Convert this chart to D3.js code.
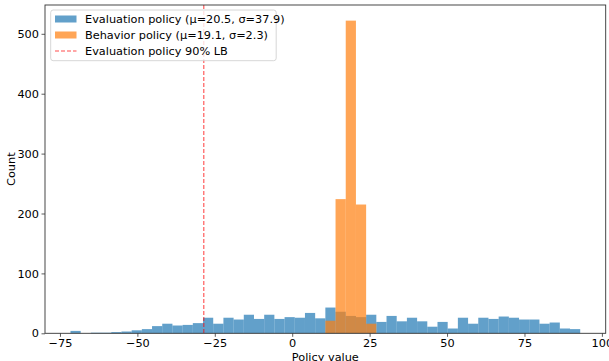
<!DOCTYPE html>
<html><head><meta charset="utf-8">
<script src="https://cdn.jsdelivr.net/npm/d3@7"></script>
<style>body{margin:0;background:#fff}svg{display:block;font-family:"DejaVu Sans",sans-serif}</style>
</head><body><svg id="c" width="609" height="361"></svg>
<script>
// Shared histogram bins (50 bins)
const binMin = -71.6, binMax = 93.0, nBins = 50;
const evalCounts = [4,0,1,1,2,3,5,7,12,16,13,14,17,26,16,26,23,
  31,24,31,24,27,26,34,25,
  43,36,29,27,31,19,29,20,26,20,
  11,19,8,26,16,26,24,28,26,23,23,16,18,8,7];
// Behavior policy counts, by shared bin index
const behIdx = [25,26,27,28,29];
const behCounts = [21,224,522,215,16];
const lbValue = -28.55;
const xTicks = [-75,-50,-25,0,25,50,75,100];
const yTicks = [0,100,200,300,400,500];
const legendLabels = ["Evaluation policy (\u03bc=20.5, \u03c3=37.9)","Behavior policy (\u03bc=19.1, \u03c3=2.3)","Evaluation policy 90% LB"];

const FS = 11.3;
const svg = d3.select("#c");
const L=45, R=605.7, T=5, B=333.3;
const w = (binMax-binMin)/nBins;
const pad = 0.05*(binMax-binMin);
const x = d3.scaleLinear().domain([binMin-pad, binMax+pad]).range([L,R]);
const y = d3.scaleLinear().domain([0, d3.max(behCounts)*1.05]).range([B,T]);

const evalData = evalCounts.map((c,i)=>({x0:binMin+i*w,x1:binMin+(i+1)*w,c}));
const behData = behCounts.map((c,k)=>({x0:binMin+behIdx[k]*w,x1:binMin+(behIdx[k]+1)*w,c}));

svg.append("g").selectAll("rect").data(evalData.filter(d=>d.c>0)).join("rect")
  .attr("x",d=>x(d.x0)).attr("width",d=>x(d.x1)-x(d.x0))
  .attr("y",d=>y(d.c)).attr("height",d=>y(0)-y(d.c))
  .attr("fill","#1f77b4").attr("fill-opacity",0.7);
svg.append("g").selectAll("rect").data(behData).join("rect")
  .attr("x",d=>x(d.x0)).attr("width",d=>x(d.x1)-x(d.x0))
  .attr("y",d=>y(d.c)).attr("height",d=>y(0)-y(d.c))
  .attr("fill","#ff7f0e").attr("fill-opacity",0.7);

svg.append("line").attr("x1",x(lbValue)).attr("x2",x(lbValue)).attr("y1",T).attr("y2",B)
  .attr("stroke","red").attr("stroke-opacity",0.7).attr("stroke-width",1.1).attr("stroke-dasharray","4,2");

// frame
svg.append("rect").attr("x",L).attr("y",T).attr("width",R-L).attr("height",B-T)
  .attr("fill","none").attr("stroke","#333").attr("stroke-width",0.9);

const xa = svg.append("g").attr("transform",`translate(0,${B})`)
  .call(d3.axisBottom(x).tickValues(xTicks).tickSize(3.5).tickPadding(2.5).tickFormat(d=>d<0?"\u2212"+(-d):d));
const ya = svg.append("g").attr("transform",`translate(${L},0)`)
  .call(d3.axisLeft(y).tickValues(yTicks).tickSize(3.5).tickPadding(2.5));
[xa,ya].forEach(a=>{a.select(".domain").remove();a.selectAll("line").attr("stroke","#333").attr("stroke-width",0.8);
  a.selectAll("text").attr("font-size",FS).attr("fill","#000").attr("font-family","DejaVu Sans");});

svg.append("text").attr("x",(L+R)/2).attr("y",360.5).attr("text-anchor","middle").attr("font-size",FS).text("Policy value");
svg.append("text").attr("transform",`translate(15,${(T+B)/2}) rotate(-90)`).attr("text-anchor","middle").attr("font-size",FS).text("Count");

// legend
const lg = svg.append("g");
lg.append("rect").attr("x",50.7).attr("y",10).attr("width",225.5).attr("height",50.7).attr("rx",2.5)
  .attr("fill","#fff").attr("fill-opacity",0.8).attr("stroke","#ccc").attr("stroke-width",0.8);
const rows=[19,35,51];
lg.append("rect").attr("x",55).attr("y",rows[0]-3.5).attr("width",21.5).attr("height",7).attr("fill","#1f77b4").attr("fill-opacity",0.7);
lg.append("rect").attr("x",55).attr("y",rows[1]-3.5).attr("width",21.5).attr("height",7).attr("fill","#ff7f0e").attr("fill-opacity",0.7);
lg.append("line").attr("x1",55).attr("x2",76.5).attr("y1",rows[2]).attr("y2",rows[2]).attr("stroke","red").attr("stroke-opacity",0.7).attr("stroke-width",1.1).attr("stroke-dasharray","4,2");
legendLabels.forEach((t,i)=>lg.append("text").attr("x",85).attr("y",rows[i]+4.1).attr("font-size",FS).text(t));
</script></body></html>
